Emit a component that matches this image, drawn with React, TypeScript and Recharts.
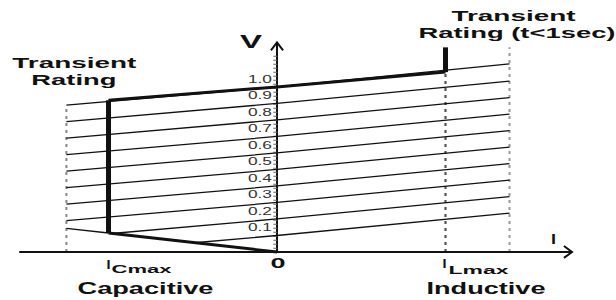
import React from "react";
import { ComposedChart, Line, XAxis, YAxis, ReferenceLine, ReferenceDot } from "recharts";

// ---- data (per-unit current I, per-unit voltage V) ----
const I_CMAX = -1;
const I_LMAX = 1;
const I_LEFT = -1.25;
const I_RIGHT = 1.38;

// voltage levels of the family of control lines (value where each crosses the V axis)
const levels = [0.1, 0.2, 0.3, 0.4, 0.5, 0.6, 0.7, 0.8, 0.9, 1.0];
const levelLabels = ["0.1", "0.2", "0.3", "0.4", "0.5", "0.6", "0.7", "0.8", "0.9", "1.0"];
// where each line starts on the left (I, V)
const startI = [-0.49, -0.98, -1.25, -1.25, -1.25, -1.25, -1.25, -1.25, -1.25, -1.25];
const startV = [0.056, 0.112, 0.19, 0.29, 0.39, 0.49, 0.59, 0.69, 0.79, 0.89];
// V where each line ends at the right dashed limit
const endV = [0.235, 0.335, 0.435, 0.535, 0.635, 0.735, 0.835, 0.935, 1.035, 1.14];

// operating envelope
const capI = [0, -1];
const capV = [0, 0.115];
const capExtI = [-1, -1.25];
const capExtV = [0.115, 0.143];
const cVertV = [0.115, 0.92];
const topI = [-1, 0, 1];
const topV = [0.92, 1.0, 1.09];
const lVertV = [1.09, 1.24];
const leftDashTop = 0.89;
const lmaxDashTop = 1.09;
const rightDashTop = 1.24;

const X_DOMAIN = [-1.644, 2.012];
const Y_DOMAIN = [-0.291, 1.527];

const pts = (is: number[], vs: number[]) => is.map((i, k) => ({ i, v: vs[k] }));

const FONT = "'Liberation Sans', Arial, Helvetica, sans-serif";
const INK = "#111";

type TProps = {
  text: string;
  dx: number;
  dy: number;
  size: number;
  len?: number;
  anchor?: "start" | "middle" | "end";
  weight?: string | number;
  fill?: string;
};

const makeText = (t: TProps) => (p: any) => (
  <text
    x={(p.cx ?? 0) + t.dx}
    y={(p.cy ?? 0) + t.dy}
    fontFamily={FONT}
    fontSize={t.size}
    fontWeight={t.weight ?? 700}
    fill={t.fill ?? INK}
    textAnchor={t.anchor ?? "start"}
    textLength={t.len}
    lengthAdjust={t.len ? "spacingAndGlyphs" : undefined}
  >
    {t.text}
  </text>
);

const thin = { stroke: INK, strokeWidth: 1.3, dot: false, activeDot: false, isAnimationActive: false, type: "linear" as const };

export default function App() {
  const lineSeries = levels.map((lv, k) => (
    <Line
      key={"lv" + k}
      data={[
        { i: startI[k], v: startV[k] },
        { i: 0, v: lv },
        { i: I_RIGHT, v: endV[k] },
      ]}
      dataKey="v"
      {...thin}
    />
  ));

  return (
    <div style={{ position: "absolute", left: 0, top: 0, width: 616, height: 300, background: "#fff" }}>
      <ComposedChart width={616} height={300} margin={{ top: 0, right: 0, bottom: 0, left: 0 }}>
        <XAxis dataKey="i" type="number" domain={X_DOMAIN} hide allowDataOverflow />
        <YAxis dataKey="v" type="number" domain={Y_DOMAIN} hide allowDataOverflow />

        {/* dashed limits */}
        <ReferenceLine segment={[{ x: I_LEFT, y: 0 }, { x: I_LEFT, y: leftDashTop }]} stroke="#888" strokeWidth={2} strokeDasharray="3 4" />
        <ReferenceLine segment={[{ x: I_LMAX, y: 0 }, { x: I_LMAX, y: lmaxDashTop }]} stroke="#555" strokeWidth={2.2} strokeDasharray="3 4" />
        <ReferenceLine segment={[{ x: I_RIGHT, y: 0 }, { x: I_RIGHT, y: rightDashTop }]} stroke="#999" strokeWidth={2} strokeDasharray="3 4" />

        {/* axes */}
        <ReferenceLine segment={[{ x: -1.53, y: 0 }, { x: 1.751, y: 0 }]} stroke={INK} strokeWidth={2} />
        <ReferenceLine segment={[{ x: 0, y: 0 }, { x: 0, y: 1.27 }]} stroke={INK} strokeWidth={2} />
        <ReferenceLine segment={[{ x: -0.01, y: 0.02 }, { x: -0.01, y: 1.2 }]} stroke="#666" strokeWidth={4} strokeDasharray="1 3" />
        <Line data={[{ i: -0.036, v: 1.222 }, { i: 0, v: 1.27 }, { i: 0.036, v: 1.222 }]} dataKey="v" {...thin} strokeWidth={2} />
        <Line data={[{ i: 1.703, v: 0.036 }, { i: 1.751, v: 0 }, { i: 1.703, v: -0.036 }]} dataKey="v" {...thin} strokeWidth={2} />

        {/* family of lines */}
        {lineSeries}

        {/* operating envelope */}
        <Line data={pts(capExtI, capExtV)} dataKey="v" {...thin} />
        <Line data={pts(capI, capV)} dataKey="v" {...thin} strokeWidth={3} />
        <Line data={pts([I_CMAX, I_CMAX], cVertV)} dataKey="v" {...thin} strokeWidth={5} />
        <Line data={pts(topI, topV)} dataKey="v" {...thin} strokeWidth={3} />
        <Line data={pts([I_LMAX, I_LMAX], lVertV)} dataKey="v" {...thin} strokeWidth={5} />

        {/* V axis tick labels */}
        {levels.map((lv, k) => (
          <ReferenceDot
            key={"tl" + k}
            x={0}
            y={lv}
            r={0}
            ifOverflow="visible"
            shape={makeText({ text: levelLabels[k], dx: -5, dy: -4, size: 10, len: 24, anchor: "end", weight: 400, fill: "#333" })}
          />
        ))}

        {/* axis names */}
        <ReferenceDot x={0} y={1.27} r={0} ifOverflow="visible" shape={makeText({ text: "V", dx: -37, dy: 6, size: 19, len: 22 })} />
        <ReferenceDot x={1.751} y={0} r={0} ifOverflow="visible" shape={makeText({ text: "I", dx: -21, dy: -8, size: 14, len: 5 })} />
        <ReferenceDot x={0} y={0} r={0} ifOverflow="visible" shape={makeText({ text: "0", dx: 1, dy: 16, size: 15, len: 15, anchor: "middle" })} />

        {/* I_Cmax / I_Lmax */}
        <ReferenceDot x={I_CMAX} y={0} r={0} ifOverflow="visible" shape={makeText({ text: "I", dx: -2, dy: 17, size: 12, len: 4 })} />
        <ReferenceDot x={I_CMAX} y={0} r={0} ifOverflow="visible" shape={makeText({ text: "Cmax", dx: 3, dy: 21, size: 11, len: 60 })} />
        <ReferenceDot x={I_LMAX} y={0} r={0} ifOverflow="visible" shape={makeText({ text: "I", dx: -3, dy: 16, size: 12, len: 4 })} />
        <ReferenceDot x={I_LMAX} y={0} r={0} ifOverflow="visible" shape={makeText({ text: "Lmax", dx: 3, dy: 22, size: 11, len: 60 })} />
        <ReferenceDot x={I_CMAX} y={0} r={0} ifOverflow="visible" shape={makeText({ text: "Capacitive", dx: -31, dy: 42, size: 17, len: 136 })} />
        <ReferenceDot x={I_LMAX} y={0} r={0} ifOverflow="visible" shape={makeText({ text: "Inductive", dx: -19, dy: 42, size: 17, len: 119 })} />

        {/* transient rating notes */}
        <ReferenceDot x={I_LEFT} y={leftDashTop} r={0} ifOverflow="visible" shape={makeText({ text: "Transient", dx: -54, dy: -37, size: 15, len: 124 })} />
        <ReferenceDot x={I_LEFT} y={leftDashTop} r={0} ifOverflow="visible" shape={makeText({ text: "Rating", dx: -35, dy: -20, size: 15, len: 85 })} />
        <ReferenceDot x={I_LMAX} y={lVertV[1]} r={0} ifOverflow="visible" shape={makeText({ text: "Transient", dx: 6, dy: -26, size: 15, len: 124 })} />
        <ReferenceDot x={I_LMAX} y={lVertV[1]} r={0} ifOverflow="visible" shape={makeText({ text: "Rating (t<1sec)", dx: -27, dy: -9, size: 15, len: 197 })} />
      </ComposedChart>
    </div>
  );
}
